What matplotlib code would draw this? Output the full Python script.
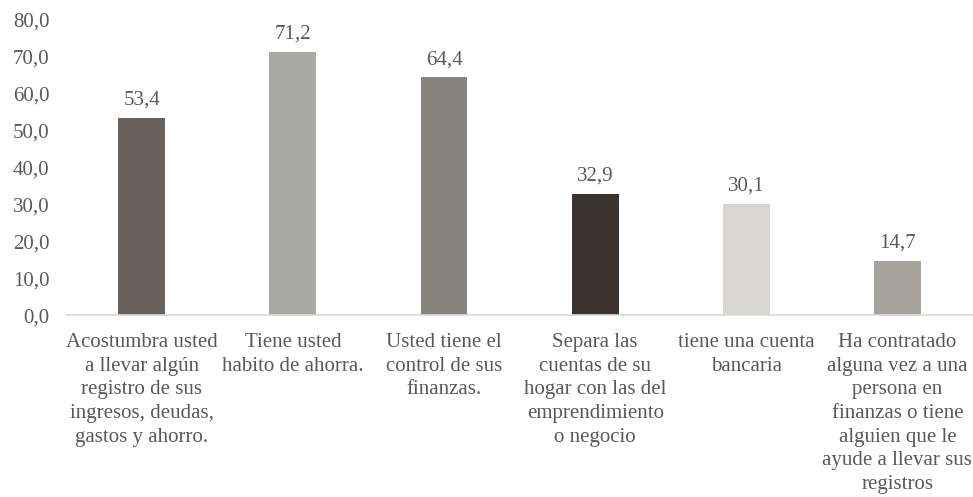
import matplotlib.pyplot as plt
from matplotlib.ticker import FuncFormatter

categories = [
    'Acostumbra usted\na llevar algún\nregistro de sus\ningresos, deudas,\ngastos y ahorro.',
    'Tiene usted\nhabito de ahorra.',
    'Usted tiene el\ncontrol de sus\nfinanzas.',
    'Separa las\ncuentas de su\nhogar con las del\nemprendimiento\no negocio',
    'tiene una cuenta\nbancaria',
    'Ha contratado\nalguna vez a una\npersona en\nfinanzas o tiene\nalguien que le\nayude a llevar sus\nregistros',
]
values = [53.4, 71.2, 64.4, 32.9, 30.1, 14.7]
bar_colors = ['#67625e', '#a9a9a5', '#878480', '#3b3431', '#d9d7d4', '#a7a39f']

plt.rcParams['font.family'] = ['Liberation Serif', 'DejaVu Serif']
text_color = '#595959'

fig, ax = plt.subplots(figsize=(9.73, 4.97), dpi=100)
plt.subplots_adjust(left=0.068, right=1.0, top=0.96, bottom=0.366)

x = range(len(values))
bars = ax.bar(x, values, width=0.31, color=bar_colors)

# etiquetas de valor encima de cada barra
for rect, v in zip(bars, values):
    ax.annotate(('%.1f' % v).replace('.', ','),
                (rect.get_x() + rect.get_width() / 2, v),
                xytext=(0, 6), textcoords='offset points',
                ha='center', va='bottom', fontsize=15, color=text_color)

ax.set_ylim(0, 80)
ax.set_xlim(-0.5, len(values) - 0.5)
ax.set_yticks(range(0, 81, 10))
ax.yaxis.set_major_formatter(FuncFormatter(lambda v, p: ('%.1f' % v).replace('.', ',')))
ax.set_xticks(list(x))
ax.set_xticklabels(categories, fontsize=15, color=text_color, linespacing=1.33)
ax.tick_params(axis='y', length=0, labelsize=15, labelcolor=text_color, pad=12)
ax.tick_params(axis='x', length=0, pad=13)

for s in ['top', 'right', 'left']:
    ax.spines[s].set_visible(False)
ax.spines['bottom'].set_color('#d9d9d9')
ax.spines['bottom'].set_linewidth(1.2)

fig.savefig('out.png', dpi=100)
